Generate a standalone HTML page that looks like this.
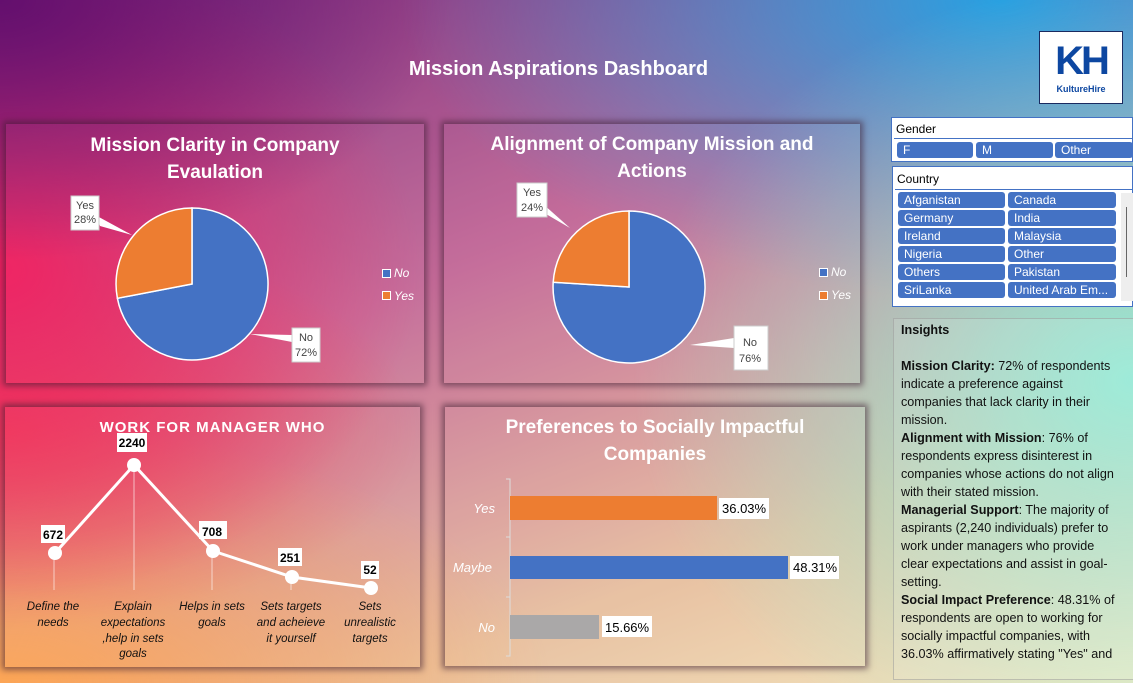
<!DOCTYPE html>
<html><head><meta charset="utf-8"><style>
*{margin:0;padding:0;box-sizing:border-box}
body{width:1133px;height:683px;overflow:hidden;position:relative;font-family:"Liberation Sans",sans-serif;
background:
radial-gradient(ellipse 500px 400px at 1133px 380px,rgba(140,235,215,0.95),rgba(140,235,215,0) 100%),
radial-gradient(ellipse 600px 300px at 1000px 0px,rgba(40,160,225,1),rgba(40,160,225,0) 100%),
radial-gradient(ellipse 450px 260px at 0px 0px,rgba(100,15,110,1),rgba(100,15,110,0) 100%),
radial-gradient(ellipse 420px 330px at 0px 270px,rgba(240,30,95,1),rgba(240,30,95,0) 100%),
radial-gradient(ellipse 420px 200px at 0px 430px,rgba(245,70,80,0.9),rgba(245,70,80,0) 100%),
radial-gradient(ellipse 550px 260px at 0px 683px,rgba(252,165,85,1),rgba(252,165,85,0) 100%),
linear-gradient(160deg,#7a2c7e 0%,#c46a98 40%,#e8c0a0 75%,#f4e8c0 100%);}
.p{position:absolute;box-shadow:0 0 6px 3px rgba(60,30,50,0.55);background:rgba(255,255,255,0.03)}
.t{position:absolute;color:#fff;font-weight:bold;text-align:center;font-size:19px;line-height:27px}
svg{position:absolute;left:0;top:0}
.sl{position:absolute;background:#fff;border:1px solid #4472c4}
.b{position:absolute;background:#4472c4;color:#fff;font-size:12px;line-height:17px;padding-left:6px;border-radius:3px;height:16px}
</style></head><body>
<div style="position:absolute;left:0;width:1117px;top:58px;text-align:center;color:#fff;font-weight:bold;font-size:20px">Mission Aspirations Dashboard</div>
<div style="position:absolute;left:1039px;top:31px;width:84px;height:73px;background:#fff;border:1px solid #1a2a60;text-align:center">
<div style="color:#0d47a1;font-weight:900;font-size:40px;line-height:46px;letter-spacing:-3px;margin-top:6px">KH</div>
<div style="color:#0d47a1;font-weight:bold;font-size:9px">KultureHire</div></div>

<div class="p" style="left:6px;top:124px;width:418px;height:259px"></div>
<div class="p" style="left:444px;top:124px;width:416px;height:259px"></div>
<div class="p" style="left:5px;top:407px;width:415px;height:260px"></div>
<div class="p" style="left:445px;top:407px;width:420px;height:259px"></div>

<div class="t" style="left:6px;width:418px;top:132px">Mission Clarity in Company<br>Evaulation</div>
<div class="t" style="left:444px;width:416px;top:131px">Alignment of Company Mission and<br>Actions</div>
<div class="t" style="left:5px;width:415px;top:414px;font-size:15px;letter-spacing:1px">WORK FOR MANAGER WHO</div>
<div class="t" style="left:445px;width:420px;top:414px">Preferences to Socially Impactful<br>Companies</div>

<svg width="1133" height="683" font-family="Liberation Sans, sans-serif">
<path d="M192,284 L192,208 A76,76 0 1 1 117.4,298.3 Z" fill="#4472c4" stroke="#fff" stroke-width="1.5"/>
<path d="M192,284 L117.4,298.3 A76,76 0 0 1 192,208 Z" fill="#ed7d31" stroke="#fff" stroke-width="1.5"/>
<polygon points="97,216 100,226 132,235" fill="#fff"/>
<rect x="71" y="196" width="28" height="34" fill="#fff" stroke="#ccc"/>
<text x="85" y="209" font-size="11" text-anchor="middle" fill="#444">Yes</text>
<text x="85" y="223" font-size="11" text-anchor="middle" fill="#444">28%</text>
<polygon points="250,334 292,335 292,342" fill="#fff"/>
<rect x="292" y="328" width="28" height="34" fill="#fff" stroke="#ccc"/>
<text x="306" y="341" font-size="11" text-anchor="middle" fill="#444">No</text>
<text x="306" y="356" font-size="11" text-anchor="middle" fill="#444">72%</text>
<rect x="382.5" y="269.5" width="8" height="8" fill="#4472c4" stroke="#fff"/>
<text x="394" y="277" font-size="12" font-style="italic" fill="#fff">No</text>
<rect x="382.5" y="291.5" width="8" height="8" fill="#ed7d31" stroke="#fff"/>
<text x="394" y="300" font-size="12" font-style="italic" fill="#fff">Yes</text>
<path d="M629,287 L629,211 A76,76 0 1 1 553.2,282.2 Z" fill="#4472c4" stroke="#fff" stroke-width="1.5"/>
<path d="M629,287 L553.2,282.2 A76,76 0 0 1 629,211 Z" fill="#ed7d31" stroke="#fff" stroke-width="1.5"/>
<polygon points="543,204 546,214 570,228" fill="#fff"/>
<rect x="517" y="183" width="30" height="34" fill="#fff" stroke="#ccc"/>
<text x="532" y="196" font-size="11" text-anchor="middle" fill="#444">Yes</text>
<text x="532" y="211" font-size="11" text-anchor="middle" fill="#444">24%</text>
<polygon points="690,345 734,338 734,348" fill="#fff"/>
<rect x="734" y="326" width="34" height="44" fill="#fff" stroke="#ccc"/>
<text x="750" y="346" font-size="11" text-anchor="middle" fill="#444">No</text>
<text x="750" y="362" font-size="11" text-anchor="middle" fill="#444">76%</text>
<rect x="819.5" y="268.5" width="8" height="8" fill="#4472c4" stroke="#fff"/>
<text x="831" y="276" font-size="12" font-style="italic" fill="#fff">No</text>
<rect x="819.5" y="291.5" width="8" height="8" fill="#ed7d31" stroke="#fff"/>
<text x="831" y="299" font-size="12" font-style="italic" fill="#fff">Yes</text>
<g stroke="#fff" stroke-opacity="0.6" stroke-width="1">
<line x1="54" y1="553" x2="54" y2="590"/><line x1="134" y1="465" x2="134" y2="590"/><line x1="212" y1="551" x2="212" y2="590"/><line x1="291" y1="577" x2="291" y2="590"/>
</g>
<polyline points="55,553 134,465 213,551 292,577 371,588" fill="none" stroke="#fff" stroke-width="3"/>
<g fill="#fff"><circle cx="55" cy="553" r="7"/><circle cx="134" cy="465" r="7"/><circle cx="213" cy="551" r="7"/><circle cx="292" cy="577" r="7"/><circle cx="371" cy="588" r="7"/></g>
<g fill="#fff"><rect x="41" y="525" width="24" height="18"/><rect x="117" y="433" width="30" height="19"/><rect x="199" y="521" width="28" height="18"/><rect x="278" y="548" width="24" height="18"/><rect x="361" y="561" width="18" height="18"/></g>
<g font-size="12" font-weight="bold" text-anchor="middle" fill="#000">
<text x="53" y="539">672</text><text x="132" y="447">2240</text><text x="212" y="536">708</text><text x="290" y="562">251</text><text x="370" y="574">52</text></g>
<g font-size="11.5" font-style="italic" text-anchor="middle" fill="#111">
<text x="53" y="610">Define the</text><text x="53" y="626">needs</text>
<text x="133" y="610">Explain</text><text x="133" y="626">expectations</text><text x="133" y="642">,help in sets</text><text x="133" y="657">goals</text>
<text x="212" y="610">Helps in sets</text><text x="212" y="626">goals</text>
<text x="291" y="610">Sets targets</text><text x="291" y="626">and acheieve</text><text x="291" y="642">it yourself</text>
<text x="370" y="610">Sets</text><text x="370" y="626">unrealistic</text><text x="370" y="642">targets</text></g>
<path d="M506,479 H510 V656 H506 M506,537 H510 M506,597 H510" stroke="#ddd" fill="none"/>
<rect x="510" y="496" width="207" height="24" fill="#ed7d31"/>
<rect x="510" y="556" width="278" height="23" fill="#4472c4"/>
<rect x="510" y="615" width="89" height="24" fill="#aaa8a8"/>
<g fill="#fff"><rect x="719" y="498" width="50" height="21"/><rect x="790" y="556" width="49" height="23"/><rect x="602" y="616" width="50" height="21"/></g>
<g font-size="13" fill="#000"><text x="722" y="513">36.03%</text><text x="793" y="572">48.31%</text><text x="605" y="632">15.66%</text></g>
<g font-size="13" font-style="italic" fill="#fff" text-anchor="end"><text x="495" y="513">Yes</text><text x="492" y="572">Maybe</text><text x="495" y="632">No</text></g>
</svg>

<div class="sl" style="left:891px;top:117px;width:242px;height:45px">
<div style="position:absolute;left:4px;top:4px;font-size:12px">Gender</div>
<div style="position:absolute;left:2px;right:0;top:20px;border-top:1px solid #4472c4"></div></div>
<div class="b" style="left:897px;top:142px;width:76px">F</div>
<div class="b" style="left:976px;top:142px;width:77px">M</div>
<div class="b" style="left:1055px;top:142px;width:78px">Other</div>
<div class="sl" style="left:892px;top:166px;width:241px;height:141px">
<div style="position:absolute;left:4px;top:5px;font-size:12px">Country</div>
<div style="position:absolute;left:2px;right:0;top:22px;border-top:1px solid #4472c4"></div>
<div style="position:absolute;left:228px;top:26px;width:12px;height:108px;background:#eee"></div>
<div style="position:absolute;left:233px;top:40px;width:1px;height:70px;background:#666"></div></div>
<div class="b" style="left:898px;top:192px;width:107px">Afganistan</div><div class="b" style="left:1008px;top:192px;width:108px">Canada</div>
<div class="b" style="left:898px;top:210px;width:107px">Germany</div><div class="b" style="left:1008px;top:210px;width:108px">India</div>
<div class="b" style="left:898px;top:228px;width:107px">Ireland</div><div class="b" style="left:1008px;top:228px;width:108px">Malaysia</div>
<div class="b" style="left:898px;top:246px;width:107px">Nigeria</div><div class="b" style="left:1008px;top:246px;width:108px">Other</div>
<div class="b" style="left:898px;top:264px;width:107px">Others</div><div class="b" style="left:1008px;top:264px;width:108px">Pakistan</div>
<div class="b" style="left:898px;top:282px;width:107px">SriLanka</div><div class="b" style="left:1008px;top:282px;width:108px">United Arab Em...</div>

<div style="position:absolute;left:893px;top:318px;width:245px;height:362px;background:rgba(255,255,255,0.12);border:1px solid rgba(150,150,150,0.5);padding:2px 0 0 7px;font-size:12.6px;line-height:18px;color:#111;white-space:nowrap">
<b>Insights</b><br><br>
<b>Mission Clarity:</b> 72% of respondents<br>indicate a preference against<br>companies that lack clarity in their<br>mission.<br>
<b>Alignment with Mission</b>: 76% of<br>respondents express disinterest in<br>companies whose actions do not align<br>with their stated mission.<br>
<b>Managerial Support</b>: The majority of<br>aspirants (2,240 individuals) prefer to<br>work under managers who provide<br>clear expectations and assist in goal-<br>setting.<br>
<b>Social Impact Preference</b>: 48.31% of<br>respondents are open to working for<br>socially impactful companies, with<br>36.03% affirmatively stating "Yes" and
</div>
</body></html>
